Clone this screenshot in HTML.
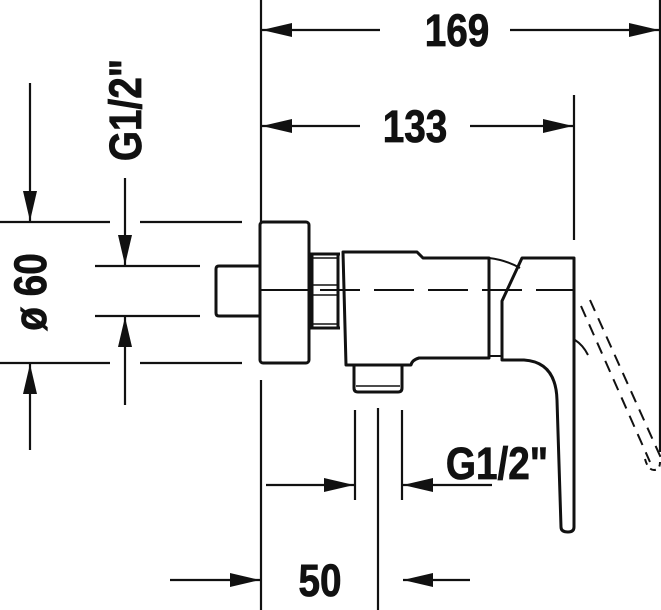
<!DOCTYPE html>
<html><head><meta charset="utf-8"><style>
html,body{margin:0;padding:0;background:#fff;width:661px;height:610px;overflow:hidden}
text{font-family:"Liberation Sans Narrow","Liberation Sans",sans-serif;font-weight:bold;font-size:45px;fill:#111;stroke:#111;stroke-width:0.8}
</style></head><body>
<svg width="661" height="610" viewBox="0 0 661 610" xmlns="http://www.w3.org/2000/svg">
<defs>
<marker id="a" viewBox="0 0 30 14" refX="30" refY="7" markerWidth="30" markerHeight="14" markerUnits="userSpaceOnUse" orient="auto"><path d="M0,0 L30,7 L0,14 z" fill="#111"/></marker>
</defs>
<g stroke="#111" stroke-width="2.2" fill="none">
<line x1="261" y1="0" x2="261" y2="222"/>
<line x1="261" y1="380" x2="261" y2="610"/>
<line x1="660" y1="0" x2="660" y2="452"/>
<line x1="574" y1="95" x2="574" y2="240"/>
<line x1="380" y1="30" x2="262" y2="30" marker-end="url(#a)"/>
<line x1="510" y1="30" x2="659" y2="30" marker-end="url(#a)"/>
<line x1="360" y1="126" x2="262" y2="126" marker-end="url(#a)"/>
<line x1="470" y1="126" x2="573" y2="126" marker-end="url(#a)"/>
<line x1="0" y1="222" x2="110" y2="222"/><line x1="140" y1="222" x2="242" y2="222"/>
<line x1="0" y1="363" x2="110" y2="363"/><line x1="140" y1="363" x2="242" y2="363"/>
<line x1="95" y1="266" x2="200" y2="266"/><line x1="95" y1="316" x2="200" y2="316"/>
<line x1="30" y1="83" x2="30" y2="221" marker-end="url(#a)"/>
<line x1="30" y1="450" x2="30" y2="364" marker-end="url(#a)"/>
<line x1="125" y1="178" x2="125" y2="265" marker-end="url(#a)"/>
<line x1="125" y1="405" x2="125" y2="317" marker-end="url(#a)"/>
<line x1="355" y1="410" x2="355" y2="500"/>
<line x1="402" y1="410" x2="402" y2="500"/>
<line x1="378" y1="408" x2="378" y2="610"/>
<line x1="266" y1="485" x2="354" y2="485" marker-end="url(#a)"/>
<line x1="492" y1="485" x2="403" y2="485" marker-end="url(#a)"/>
<line x1="170" y1="580" x2="260" y2="580" marker-end="url(#a)"/>
<line x1="470" y1="580" x2="403" y2="580" marker-end="url(#a)"/>
<line x1="320" y1="290" x2="575" y2="290" stroke-width="2" stroke-dasharray="40,14"/>
<line x1="260" y1="290" x2="310" y2="290" stroke-width="2"/>
</g>
<g stroke="#111" stroke-width="3" fill="none" stroke-linejoin="round">
<path d="M260,266 H219 Q216,266 216,269 V313 Q216,316 219,316 H260"/>
<rect x="260" y="222" width="49" height="141" rx="3"/>
<path d="M310,254 H340 M310,328 H340 M312,254 V328 M338,254 V328"/>
<path d="M312,258 H338 M312,324 H338 M312,285 H338 M312,295 H338" stroke-width="1.5"/>
<path d="M343,252 L417,252 L423,258 L489,258 L489,358 L419,358 Q412,360 411,365 L346,365 Z"/>
<path d="M354,365 V388 Q354,392 358,392 H398 Q402,392 402,388 V365"/>
<line x1="356" y1="386" x2="400" y2="386" stroke-width="1.5"/>
<path d="M489,258 Q506,260 520,268" stroke-width="2"/>
<path d="M489,356 H502" stroke-width="2"/>
<path d="M522,258 H574 V527 Q574,532 568,532 Q561,532 561,527 L557,400 Q556,362 524,360 H502 V301 Z"/>
<path d="M575,340 Q583,345 588,355" stroke-width="2"/>
</g>
<g stroke="#111" stroke-width="2" fill="none" stroke-dasharray="12,8">
<line x1="581" y1="306" x2="650" y2="462"/>
<line x1="590" y1="300" x2="661" y2="458"/>
</g>
<path d="M645,459 Q648,470 654,470 Q660,470 660,462" stroke="#111" stroke-width="2" fill="none" stroke-dasharray="6,5"/>
<text text-anchor="middle" transform="translate(457,46) scale(0.86,1)">169</text>
<text text-anchor="middle" transform="translate(415,142) scale(0.86,1)">133</text>
<text text-anchor="middle" transform="translate(497,479) scale(0.86,1)">G1/2"</text>
<text text-anchor="middle" transform="translate(320,596) scale(0.86,1)">50</text>
<text text-anchor="middle" transform="translate(46,292) rotate(-90) scale(0.86,1)">ø 60</text>
<text text-anchor="middle" transform="translate(141,110) rotate(-90) scale(0.86,1)">G1/2"</text>
</svg>
</body></html>
